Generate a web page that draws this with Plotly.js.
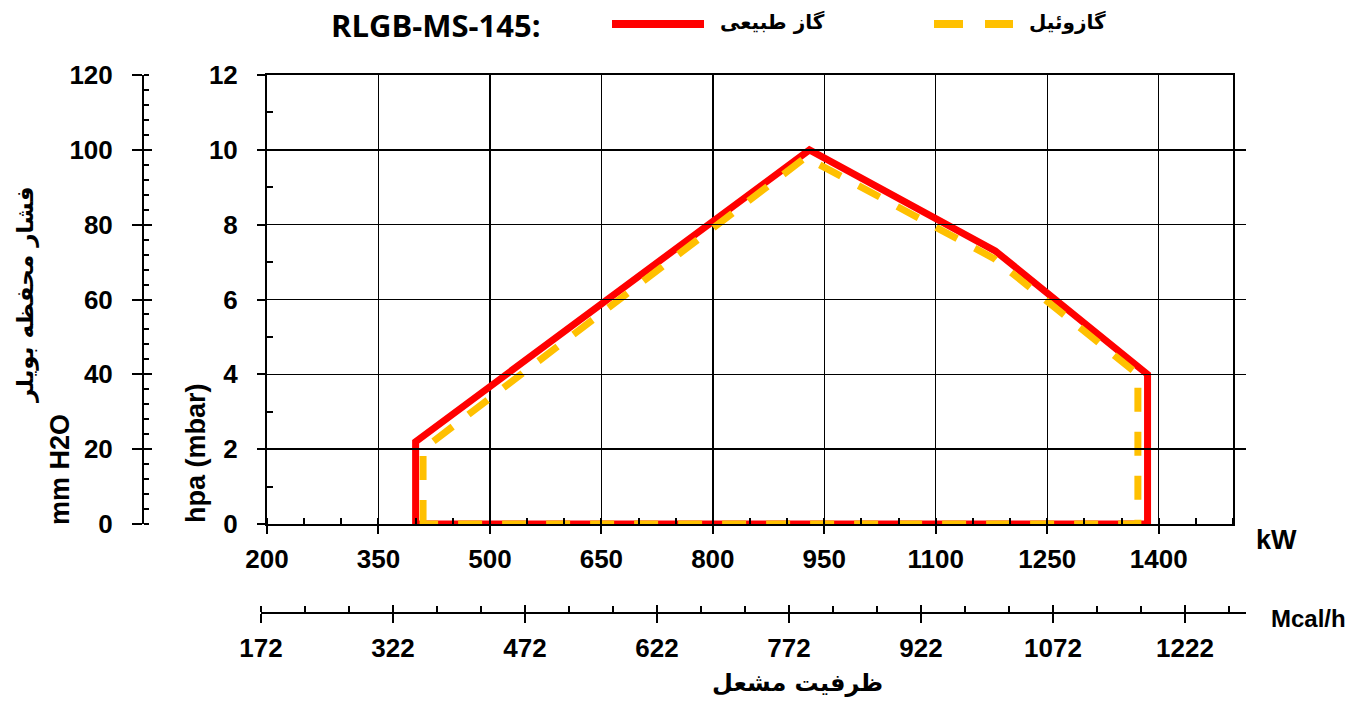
<!DOCTYPE html>
<html>
<head>
<meta charset="utf-8">
<script src="https://cdn.plot.ly/plotly-3.0.1.min.js"></script>
<style>
  html, body { margin: 0; padding: 0; background: #fff; }
  #chart { width: 1345px; height: 702px; }
</style>
</head>
<body>
<div id="chart"></div>
<script>
// ---------- data ----------
const seriesNames = ['گاز طبیعی', 'گازوئیل'];
const gasKW   = [400, 400, 930, 1180, 1385, 1385, 400];
const gasHpa  = [0, 2.2, 10.0, 7.3, 4.0, 0, 0];
const oilKW   = [410, 410, 925, 1178, 1372, 1372, 410];
const oilHpa  = [0, 2.0, 9.8, 7.1, 4.0, 0, 0];

const kwTicks   = [200, 350, 500, 650, 800, 950, 1100, 1250, 1400];
const mcalTicks = [172, 322, 472, 622, 772, 922, 1072, 1222];
const hpaTicks  = [0, 2, 4, 6, 8, 10, 12];
const mmTicks   = [0, 20, 40, 60, 80, 100, 120];

const titleText = 'RLGB-MS-145:';
const xTitle = 'ظرفیت مشعل';
const yTitleFa = 'فشار محفظه بویلر';
const yTitleMm = 'mm H2O';
const yTitleHpa = 'hpa (mbar)';
const kwLabel = 'kW';
const mcalLabel = 'Mcal/h';

// ---------- layout geometry ----------
const W = 1345, H = 702;
const M = { l: 143, r: 99, t: 75, b: 89 };
const PW = W - M.l - M.r, PH = H - M.t - M.b;
const px = x => (x - M.l) / PW;
const py = y => (H - M.b - y) / PH;

const RED = '#FF0000', GOLD = '#FFC000';
const numFont = { family: 'Liberation Sans, Arial, sans-serif', size: 26, color: '#000', weight: 700 };
const faFont = (s) => ({ family: 'DejaVu Sans, Noto Sans, sans-serif', size: s, color: '#000', weight: 700 });

const yDomain = [py(524), 1];
const mcalMax = 172 + (1246 - 261) / (132 / 150);

const traces = [
  { x: gasKW, y: gasHpa, xaxis: 'x', yaxis: 'y', mode: 'lines', name: seriesNames[0],
    line: { color: RED, width: 7 }, showlegend: false, hoverinfo: 'x+y' },
  { x: oilKW, y: oilHpa, xaxis: 'x', yaxis: 'y', mode: 'lines', name: seriesNames[1],
    line: { color: GOLD, width: 7, dash: '24px,20px' }, showlegend: false, hoverinfo: 'x+y' },
  // axis carriers (no marks)
  { x: [], y: [], xaxis: 'x2', yaxis: 'y', showlegend: false, hoverinfo: 'skip' },
  { x: [], y: [], xaxis: 'x3', yaxis: 'y', showlegend: false, hoverinfo: 'skip' },
  { x: [], y: [], xaxis: 'x', yaxis: 'y2', showlegend: false, hoverinfo: 'skip' },
  { x: [], y: [], xaxis: 'x', yaxis: 'y3', showlegend: false, hoverinfo: 'skip' }
];

const layout = {
  width: W, height: H,
  margin: M,
  paper_bgcolor: '#fff', plot_bgcolor: 'rgba(0,0,0,0)',
  showlegend: false,
  xaxis: {
    domain: [px(267), px(1233)], range: [200, 1500], anchor: 'y',
    tickmode: 'array', tickvals: kwTicks, ticktext: kwTicks.map(String),
    ticks: 'outside', ticklen: 8, tickwidth: 2, tickcolor: '#000',
    minor: { tick0: 200, dtick: 50, ticks: 'inside', ticklen: 6, tickwidth: 2, tickcolor: '#000', showgrid: false },
    showgrid: true, gridcolor: '#000', gridwidth: 1.4,
    showline: true, linecolor: '#000', linewidth: 2, mirror: true,
    zeroline: false, tickfont: numFont, ticklabelstandoff: 3
  },
  yaxis: {
    domain: yDomain, range: [0, 12], anchor: 'x',
    tickmode: 'array', tickvals: hpaTicks, ticktext: hpaTicks.map(String),
    ticks: 'outside', ticklen: 8, tickwidth: 2, tickcolor: '#000',
    minor: { tick0: 1, dtick: 2, ticks: 'inside', ticklen: 6, tickwidth: 2, tickcolor: '#000', showgrid: false },
    showgrid: true, gridcolor: '#000', gridwidth: 1.4,
    showline: true, linecolor: '#000', linewidth: 2, mirror: true,
    zeroline: false, tickfont: numFont, ticklabelstandoff: 14
  },
  xaxis2: {
    domain: [px(261), 1], range: [172, mcalMax],
    anchor: 'free', position: 0,
    tickmode: 'array', tickvals: mcalTicks, ticktext: mcalTicks.map(String),
    ticks: 'outside', ticklen: 9, tickwidth: 2, tickcolor: '#000',
    minor: { tick0: 172, dtick: 50, ticks: 'inside', ticklen: 6, tickwidth: 2, tickcolor: '#000', showgrid: false },
    showgrid: false, showline: true, linecolor: '#000', linewidth: 2,
    zeroline: false, tickfont: numFont, ticklabelstandoff: 3
  },
  xaxis3: {
    overlaying: 'x2', range: [172, mcalMax],
    anchor: 'free', position: 0,
    tickmode: 'array', tickvals: mcalTicks, ticktext: mcalTicks.map(() => ''),
    ticks: 'inside', ticklen: 8, tickwidth: 2, tickcolor: '#000',
    showgrid: false, showline: false, zeroline: false, showticklabels: false
  },
  yaxis2: {
    overlaying: 'y', domain: yDomain, range: [0, 120], anchor: 'free', position: 0, side: 'left',
    tickmode: 'array', tickvals: mmTicks, ticktext: mmTicks.map(String),
    ticks: 'outside', ticklen: 10, tickwidth: 2, tickcolor: '#000',
    minor: { tick0: 0, dtick: 4, ticks: 'inside', ticklen: 5, tickwidth: 2, tickcolor: '#000', showgrid: false },
    showgrid: false, showline: true, linecolor: '#000', linewidth: 2,
    zeroline: false, tickfont: numFont, ticklabelstandoff: 14
  },
  yaxis3: {
    overlaying: 'y', range: [0, 120], anchor: 'free', position: 0, side: 'left',
    tickmode: 'array', tickvals: mmTicks, ticktext: mmTicks.map(() => ''),
    ticks: 'inside', ticklen: 8, tickwidth: 2, tickcolor: '#000',
    showgrid: false, showline: false, zeroline: false, showticklabels: false
  },
  shapes: [
    { type: 'line', xref: 'paper', yref: 'paper', x0: px(612), x1: px(704), y0: py(24), y1: py(24),
      line: { color: RED, width: 8 } },
    { type: 'line', xref: 'paper', yref: 'paper', x0: px(934), x1: px(1013), y0: py(24), y1: py(24),
      line: { color: GOLD, width: 8, dash: '29px,22px' } }
  ],
  annotations: [
    { text: titleText, xref: 'paper', yref: 'paper', x: px(436), y: py(25), showarrow: false,
      xanchor: 'center', yanchor: 'middle',
      font: { family: 'Liberation Sans Narrow, Open Sans, sans-serif', size: 31, color: '#000', weight: 700 } },
    { text: seriesNames[0], xref: 'paper', yref: 'paper', x: px(772), y: py(22), showarrow: false,
      xanchor: 'center', yanchor: 'middle', font: faFont(20) },
    { text: seriesNames[1], xref: 'paper', yref: 'paper', x: px(1067), y: py(22), showarrow: false,
      xanchor: 'center', yanchor: 'middle', font: faFont(20) },
    { text: yTitleFa, xref: 'paper', yref: 'paper', x: px(25), y: py(295), showarrow: false,
      textangle: -90, xanchor: 'center', yanchor: 'middle', font: faFont(23) },
    { text: yTitleMm, xref: 'paper', yref: 'paper', x: px(60), y: py(470), showarrow: false,
      textangle: -90, xanchor: 'center', yanchor: 'middle', font: Object.assign({}, numFont, { size: 27 }) },
    { text: yTitleHpa, xref: 'paper', yref: 'paper', x: px(196), y: py(453), showarrow: false,
      textangle: -90, xanchor: 'center', yanchor: 'middle', font: Object.assign({}, numFont, { size: 27 }) },
    { text: kwLabel, xref: 'paper', yref: 'paper', x: px(1276), y: py(540), showarrow: false,
      xanchor: 'center', yanchor: 'middle', font: Object.assign({}, numFont, { size: 27 }) },
    { text: mcalLabel, xref: 'paper', yref: 'paper', x: px(1269), y: py(618), showarrow: false,
      xanchor: 'left', yanchor: 'middle', font: Object.assign({}, numFont, { size: 24 }) },
    { text: xTitle, xref: 'paper', yref: 'paper', x: px(797), y: py(683), showarrow: false,
      xanchor: 'center', yanchor: 'middle', font: faFont(24) }
  ]
};

Plotly.newPlot('chart', traces, layout, { displayModeBar: false, staticPlot: true });
</script>
</body>
</html>
